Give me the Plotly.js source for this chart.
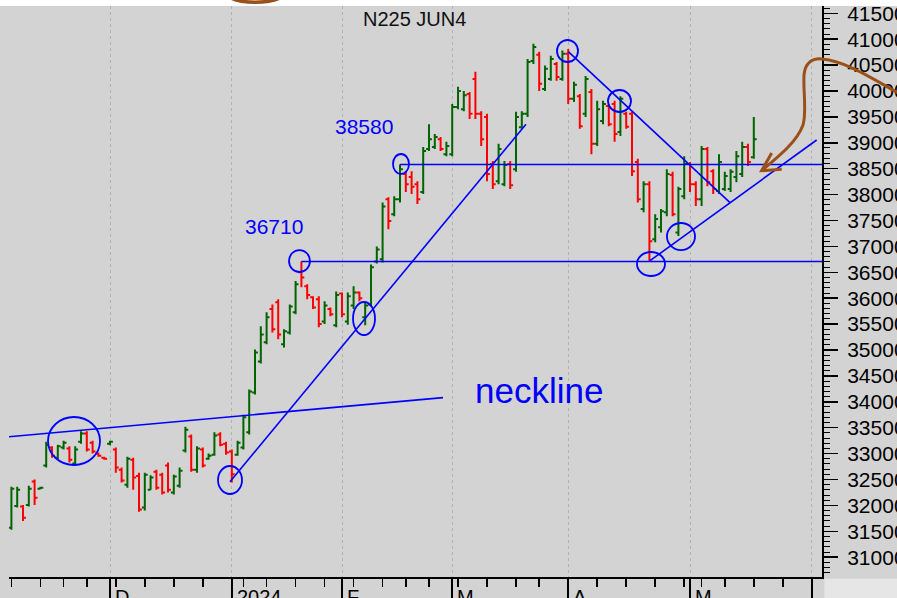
<!DOCTYPE html>
<html>
<head>
<meta charset="utf-8">
<script src="https://cdn.plot.ly/plotly-3.0.1.min.js"></script>
<style>
html,body{margin:0;padding:0;background:#d3d3d3;overflow:hidden;}
#chart{width:897px;height:598px;}
</style>
</head>
<body>
<div id="chart"></div>
<script>
// ---- Data (N225 JUN4 futures, daily bars; x = trading-session index, 0 = 1 Dec 2023) ----
const firstSession = -17;
const openP = [
31570,31990,31980,32010,32460,32320,32770,33120,32920,33120,33100,32810,33230,33390,33210,33000,32920,
33190,33080,32690,32400,32880,32570,31960,32300,32650,32590,32770,32250,32380,33060,33330,32690,33080,32900,32980,33370,33190,
33040,32980,33120,33410,34180,34780,35150,35790,35920,35110,35340,35730,36500,36230,36020,35980,35550,35790,35480,
36090,35550,35860,36110,35630,35880,36710,36750,37910,37620,37910,38400,38340,38200,38050,38880,38920,39070,38780,
38780,39690,39650,39940,40230,39560,39500,38590,38260,38200,38590,38490,39300,39560,40580,40700,40040,40230,40520,40230,
40720,39850,39900,39560,39980,38980,39420,39710,39750,39210,39560,39560,38630,37720,38200,37140,37370,37660,38380,37270,37970,
38590,38200,37910,38880,38450,38070,38110,38110,38340,38400,38920,38720];
const highP = [
32360,32360,32010,32380,32500,32360,33230,33140,33170,33250,33140,33140,33430,33430,33250,33020,32940,
33250,33120,32730,32940,32920,32630,32630,32580,32690,32630,32830,32590,32730,33520,33370,33140,33120,33000,33410,33410,33230,
33080,33250,33750,34240,35010,35460,35730,35880,35980,35400,35880,36330,36710,36270,36040,36040,35940,35820,36130,
36110,36110,36230,36130,35920,36650,37000,37850,37950,37970,38580,38450,38450,38260,38920,39360,39170,39110,39020,
39750,40080,40000,39980,40370,39610,39560,38650,38980,38650,38650,39600,39610,40620,40910,40760,40490,40680,40560,40780,
40810,40180,39940,40290,40040,39810,39810,39750,39810,39900,39600,39600,38690,38260,38260,37620,37720,38490,38440,38150,38740,
38630,38260,38940,38920,38490,38780,38440,38490,38840,39020,38980,39500];
const lowP = [
31530,31960,31700,31980,32010,32310,32730,32920,32880,33080,32830,32770,33190,33040,33000,32940,32880,
33160,32630,32440,32340,32300,31880,31900,32300,32300,32210,32250,32210,32340,33020,32650,32630,32730,32880,32960,33140,32980,
32440,32960,33080,33370,34140,34740,35110,35340,35210,35050,35300,35690,36210,35980,35790,35440,35500,35650,35440,
35630,35490,35790,35940,35480,35840,36670,36690,37330,37580,37850,38050,38010,37820,38010,38840,38880,38840,38740,
38740,39650,39610,39460,39460,38940,38260,38110,38200,38160,38110,38440,39270,39500,40520,40000,40000,40200,40200,40200,
39750,39790,39270,39500,38780,38940,39360,39320,39020,39130,39270,38360,37850,37660,36700,37080,37270,37580,37580,37200,37910,
38050,37780,37780,38160,38010,38010,38070,38050,38240,38340,38550,38690];
const closeP = [
32320,32300,31760,32320,32150,32340,33170,32960,33140,33210,32880,33080,33390,33080,33040,32960,32900,
33230,32730,32480,32900,32540,31920,32590,32540,32340,32250,32300,32560,32670,33460,32690,33100,32770,32960,33350,33170,33020,
32600,33210,33700,34200,34950,35300,35630,35400,35300,35360,35840,36270,36400,36060,35820,35500,35860,35690,36060,
35690,36040,36110,36000,35860,36600,36940,37770,37490,37910,38490,38200,38150,37910,38840,39070,39110,38880,38940,
39690,40000,39920,39560,39560,39070,38400,38200,38880,38570,38180,39500,39560,40560,40850,40140,40430,40620,40270,40720,
39850,40120,39320,40230,38980,39650,39750,39360,39170,39850,39310,38450,37910,38200,37100,37530,37680,38400,37620,38110,38590,
38200,37910,38880,38240,38110,38630,38360,38440,38740,38920,38630,39070];

// x-axis calendar (trading-session indices)
const monthLabels   = ['N','D','2024','F','M','A','M'];
const monthStartDay = [-21, 0, 21, 40, 59, 79, 100];
const juneStartDay  = 121;
const weekStartDay  = [-17,-12,-8,-4,1,6,11,16,23,27,32,37,42,47,51,55,60,65,70,74,84,89,94,99,102,106,111,116];

// hand-drawn annotations (session index, price)
const levelValues   = [36710, 38580];
const levelFromDay  = [33, 50];
const trendFromDay  = [-17.41, 20.69, 79.02, 93.10];
const trendFromP    = [33326, 32457, 40759, 36724];
const trendToDay    = [57.41, 71.72, 106.90, 121.84];
const trendToP      = [34081, 39357, 37844, 39054];
const ringDay0 = [-10.69, 18.62, 30.86, 41.90, 48.79, 77.07, 85.86, 90.86, 96.03];
const ringDay1 = [ -1.72, 22.76, 34.48, 45.69, 51.55, 80.69, 89.83, 95.69, 100.86];
const ringP0   = [33707, 32761, 36930, 35927, 38784, 40985, 40019, 36892, 37452];
const ringP1   = [32780, 32220, 36506, 35290, 38398, 40560, 39595, 36429, 36930];

const title = 'N225 JUN4';
const necklineText = 'neckline';

// ---- build ----
const x = closeP.map((_, i) => i + firstSession);
const BLUE = '#0000ff';
const BROWN = '#9a5019';
const FONT = 'Liberation Sans, Arial, Helvetica, sans-serif';

const trace = {
  type: 'ohlc', x: x, open: openP, high: highP, low: lowP, close: closeP,
  increasing: {line: {color: '#006400', width: 2}},
  decreasing: {line: {color: '#ff0000', width: 2}},
  tickwidth: 0.5, hoverinfo: 'skip', showlegend: false
};

const shapes = [];
// white strip above the chart frame and light corner
shapes.push({type:'rect', xref:'paper', yref:'paper', x0:-0.05, x1:1.2, y0:1, y1:1.1,
  fillcolor:'#ffffff', line:{width:0}, layer:'below'});
shapes.push({type:'rect', xref:'paper', yref:'paper', x0:1.003, x1:1.2, y0:-0.1, y1:-0.003,
  fillcolor:'#e6e6e6', line:{width:0}, layer:'below'});

levelValues.forEach((v, i) => {
  shapes.push({type:'line', xref:'x', yref:'y', x0: levelFromDay[i], x1: 130, y0: v, y1: v,
    line:{color: BLUE, width: 1.6}, layer:'above'});
});
trendFromDay.forEach((d, i) => {
  shapes.push({type:'line', xref:'x', yref:'y', x0: d, y0: trendFromP[i], x1: trendToDay[i], y1: trendToP[i],
    line:{color: BLUE, width: 1.6}, layer:'above'});
});
ringDay0.forEach((d, i) => {
  shapes.push({type:'circle', xref:'x', yref:'y', x0: d, x1: ringDay1[i], y0: ringP0[i], y1: ringP1[i],
    line:{color: BLUE, width: 1.8}, fillcolor:'rgba(0,0,0,0)', layer:'above'});
});
// brown free-hand arrow (paper coordinates)
shapes.push({type:'path', xref:'paper', yref:'paper',
  path:'M 0.9258 0.7116 C 0.9459 0.7356 0.9692 0.7618 0.9766 0.7916 C 0.9815 0.8144 0.9766 0.8529 0.9779 0.8792 C 0.9791 0.9002 0.9877 0.9089 1.0000 0.9072 C 1.0283 0.9037 1.0590 0.8757 1.0959 0.8459',
  line:{color: BROWN, width: 3}, layer:'above'});
shapes.push({type:'path', xref:'paper', yref:'paper',
  path:'M 0.9381 0.7425 L 0.9258 0.7116 L 0.9504 0.7141',
  line:{color: BROWN, width: 3}, layer:'above'});
shapes.push({type:'path', xref:'paper', yref:'paper',
  path:'M 0.2705 1.0160 C 0.2841 1.0035 0.3210 1.0035 0.3358 1.0160',
  line:{color: BROWN, width: 3.5}, layer:'above'});

const annotations = [];
monthLabels.forEach((t, i) => {
  annotations.push({text: t, x: monthStartDay[i], xref:'x', y: -0.012, yref:'paper',
    xanchor:'left', yanchor:'top', xshift: 3, showarrow:false,
    font:{family: FONT, size: 20, color:'#000'}});
});
annotations.push({text: title, x: 0.4988, xref:'paper', y: 0.9764, yref:'paper',
  xanchor:'center', yanchor:'middle', showarrow:false, font:{family: FONT, size: 20, color:'#111'}});
annotations.push({text: String(levelValues[1]), x: 43.79, xref:'x', y: 39310, yref:'y',
  xanchor:'center', yanchor:'middle', showarrow:false, font:{family: FONT, size: 21, color: BLUE}});
annotations.push({text: String(levelValues[0]), x: 28.28, xref:'x', y: 37380, yref:'y',
  xanchor:'center', yanchor:'middle', showarrow:false, font:{family: FONT, size: 21, color: BLUE}});
annotations.push({text: necklineText, x: 73.88, xref:'x', y: 34210, yref:'y',
  xanchor:'center', yanchor:'middle', showarrow:false, font:{family: FONT, size: 35, color: BLUE}});

const layout = {
  width: 897, height: 598,
  margin: {l: 9, r: 75, t: 6, b: 21, pad: 0},
  paper_bgcolor: '#d3d3d3', plot_bgcolor: '#d3d3d3',
  showlegend: false, hovermode: false,
  font: {family: FONT, color: '#000'},
  xaxis: {
    range: [-17.414, 122.759], fixedrange: true,
    rangeslider: {visible: false},
    tickmode: 'array', tickvals: monthStartDay.concat([juneStartDay]),
    showticklabels: false,
    ticks: 'outside', ticklen: 21, tickwidth: 2, tickcolor: '#000',
    showgrid: true, gridcolor: '#b2b2b2', griddash: 'dot', gridwidth: 1,
    showline: true, linecolor: '#000', linewidth: 2, zeroline: false,
    minor: {tickmode: 'array', tickvals: weekStartDay, ticks: 'outside', ticklen: 8,
            tickwidth: 1.5, tickcolor: '#000', showgrid: false}
  },
  yaxis: {
    side: 'right', range: [30618, 41641], fixedrange: true,
    tickmode: 'linear', tick0: 31000, dtick: 500, tickformat: 'd',
    ticks: 'outside', ticklen: 14, tickwidth: 1.5, tickcolor: '#000',
    ticklabelstandoff: 5,
    tickfont: {family: FONT, size: 21, color: '#000'},
    showgrid: false, zeroline: false,
    showline: true, linecolor: '#000', linewidth: 2,
    minor: {dtick: 100, ticks: 'outside', ticklen: 6, tickwidth: 1, tickcolor: '#000', showgrid: false}
  },
  shapes: shapes,
  annotations: annotations
};

Plotly.newPlot('chart', [trace], layout, {displayModeBar: false, staticPlot: true});
</script>
</body>
</html>
